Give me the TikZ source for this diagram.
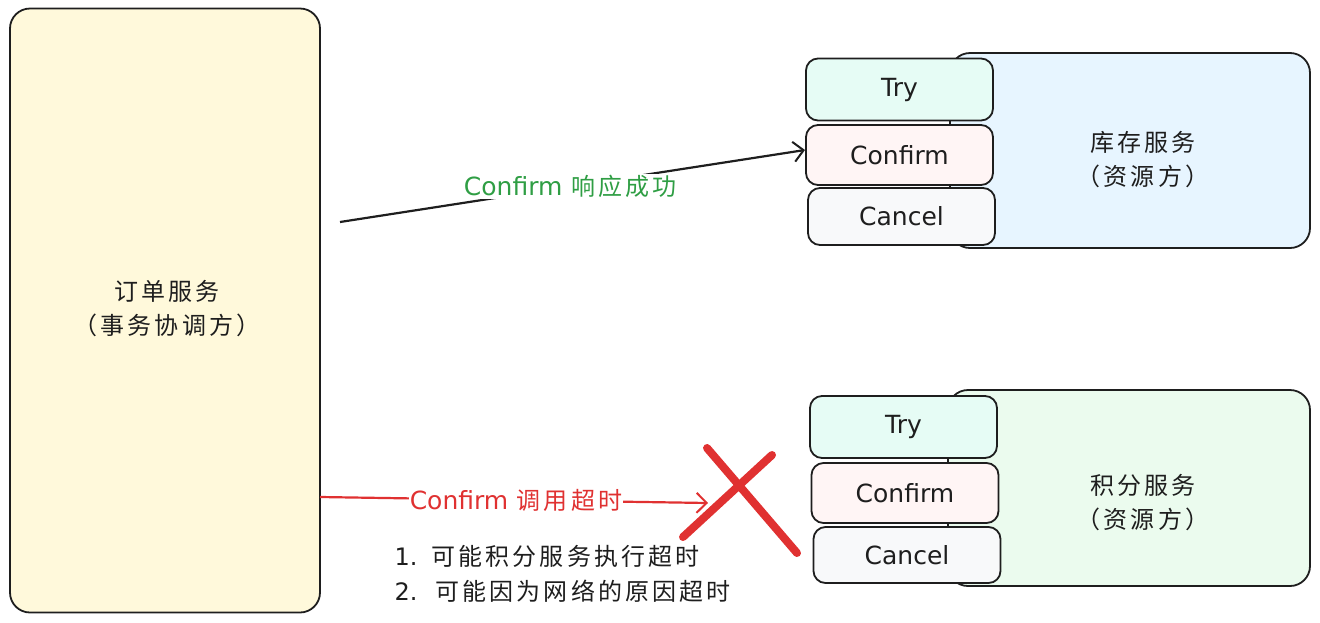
\documentclass[tikz,border=0pt]{standalone}
\usepackage{fontspec}
\setmainfont{Noto Sans CJK SC}[LetterSpace=13]
\newfontfamily\lat{DejaVu Sans}
\usetikzlibrary{arrows.meta}
\definecolor{stroke}{HTML}{1E1E1E}
\definecolor{yel}{HTML}{FFF9DB}
\definecolor{blu}{HTML}{E7F5FF}
\definecolor{grn}{HTML}{EBFBEE}
\definecolor{tryc}{HTML}{E6FCF5}
\definecolor{cfc}{HTML}{FFF5F5}
\definecolor{cnc}{HTML}{F8F9FA}
\definecolor{gtxt}{HTML}{2F9E44}
\definecolor{rtxt}{HTML}{E03131}
\begin{document}
\begin{tikzpicture}[x=1pt,y=-1pt,
  bigbox/.style={draw=stroke, line width=1.8pt, rounded corners=20pt, rectangle, inner sep=0pt},
  opbox/.style={draw=stroke, line width=1.8pt, rounded corners=12pt, rectangle, inner sep=0pt, minimum width=187pt, font=\lat\fontsize{25}{26}\selectfont, text=stroke},
  lbl/.style={align=center, font=\fontsize{24}{34}\selectfont, text=stroke},
  edgelbl/.style={fill=white, inner sep=1pt, font=\fontsize{24}{24}\selectfont},
  arr/.style={line width=2.2pt, -{Straight Barb[length=10pt,width=20pt,line width=2pt]}},
  xline/.style={draw=rtxt, line width=8pt, line cap=round}
]
\useasboundingbox (0,0) rectangle (1320,622);
% order service
\node[bigbox, fill=yel, minimum width=310pt, minimum height=604pt] (ord) at (165,310.5) {};
\node[lbl] (ordlbl) at (167,309) {订单服务\\（事务协调方）};
% inventory service
\node[bigbox, fill=blu, minimum width=360pt, minimum height=195pt] (inv) at (1130,150.5) {};
\node[lbl] (invlbl) at (1143,160) {库存服务\\（资源方）};
\node[opbox, fill=tryc, minimum height=62pt] (try1) at (899.5,89.5) {Try};
\node[opbox, fill=cfc, minimum height=60pt] (cf1) at (899.5,155) {Confirm};
\node[opbox, fill=cnc, minimum height=57pt] (cn1) at (901.5,216.5) {Cancel};
% points service
\node[bigbox, fill=grn, minimum width=362pt, minimum height=196pt] (pts) at (1129,488) {};
\node[lbl] (ptslbl) at (1143,503) {积分服务\\（资源方）};
\node[opbox, fill=tryc, minimum height=62pt] (try2) at (903.5,427) {Try};
\node[opbox, fill=cfc, minimum height=60pt] (cf2) at (905,493) {Confirm};
\node[opbox, fill=cnc, minimum height=56pt] (cn2) at (907,555) {Cancel};
% top arrow
\coordinate (a1s) at (340,222);
\coordinate (a1e) at (805,150);
\draw[arr, draw=stroke] (a1s) -- (a1e) node[pos=0.495, edgelbl, text=gtxt] (l1) {{\lat\fontsize{25}{24}\selectfont Confirm} 响应成功};
% bottom arrow
\coordinate (a2s) at (320,497);
\coordinate (a2e) at (708,503);
\draw[arr, draw=rtxt] (a2s) -- (a2e) node[pos=0.505, edgelbl, text=rtxt] (l2) {{\lat\fontsize{25}{24}\selectfont Confirm} 调用超时};
% red X
\coordinate (x1a) at (707,448);
\coordinate (x1b) at (797,553);
\coordinate (x2a) at (772,455);
\coordinate (x2b) at (683,537);
\draw[xline] (x1a) -- (x1b);
\draw[xline] (x2a) -- (x2b);
% notes
\node[anchor=west, align=left, text=stroke, font=\fontsize{24}{35}\selectfont] (notes) at (391,574) {{\lat\fontsize{24}{35}\selectfont 1.}\hspace{14pt}可能积分服务执行超时\\{\lat\fontsize{24}{35}\selectfont 2.}\hspace{18pt}可能因为网络的原因超时};
\end{tikzpicture}
\end{document}
